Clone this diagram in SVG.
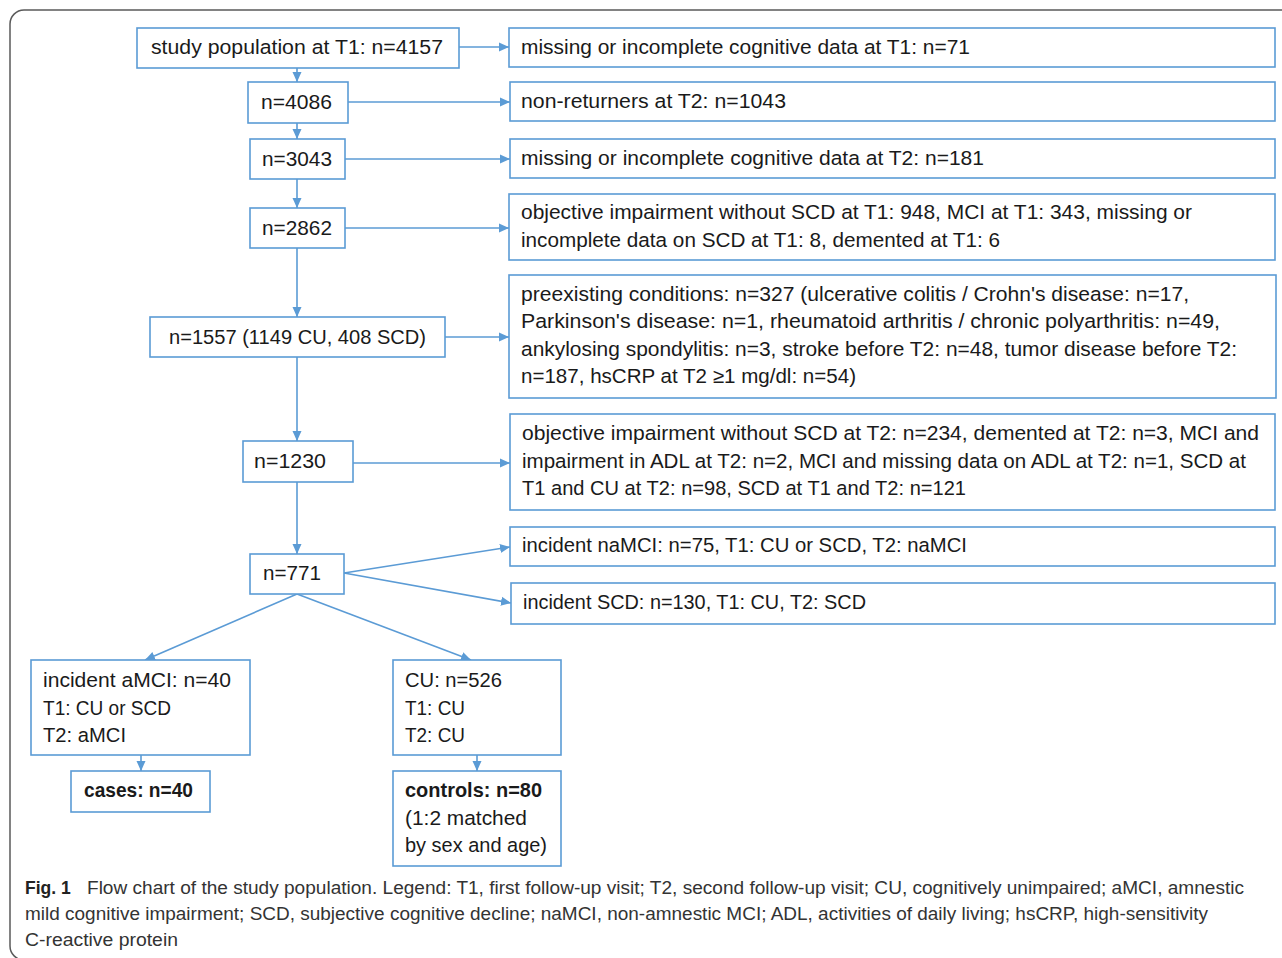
<svg xmlns="http://www.w3.org/2000/svg" width="1282" height="958" viewBox="0 0 1282 958">
<style>
.frame{fill:#fff;stroke:#5a5a5a;stroke-width:1.5}
.box{fill:#fff;stroke:#5b9bd5;stroke-width:1.6}
.t{font-family:"Liberation Sans",Arial,sans-serif;font-size:20.5px;fill:#1a1a1a}
.b{font-weight:bold}
.con{fill:none;stroke:#5b9bd5;stroke-width:1.6}
.cap{font-family:"Liberation Sans",Arial,sans-serif;font-size:17.5px;fill:#333}
</style>
<defs>
<marker id="ah" markerUnits="userSpaceOnUse" markerWidth="12" markerHeight="12" refX="10" refY="6" orient="auto">
<path d="M0,1.5 L10,6 L0,10.5 z" fill="#5b9bd5"/>
</marker>
</defs>
<rect class="frame" x="10" y="10" width="1300" height="950" rx="14"/>

<g id="connectors">
<line class="con" x1="297" y1="68" x2="297" y2="82" marker-end="url(#ah)"/>
<line class="con" x1="297" y1="123" x2="297" y2="139" marker-end="url(#ah)"/>
<line class="con" x1="297" y1="179" x2="297" y2="208" marker-end="url(#ah)"/>
<line class="con" x1="297" y1="248" x2="297" y2="317" marker-end="url(#ah)"/>
<line class="con" x1="297" y1="357" x2="297" y2="441" marker-end="url(#ah)"/>
<line class="con" x1="297" y1="482" x2="297" y2="554" marker-end="url(#ah)"/>
<line class="con" x1="459" y1="47" x2="509" y2="47" marker-end="url(#ah)"/>
<line class="con" x1="348" y1="102" x2="510" y2="102" marker-end="url(#ah)"/>
<line class="con" x1="345" y1="159" x2="510" y2="159" marker-end="url(#ah)"/>
<line class="con" x1="345" y1="228" x2="509" y2="228" marker-end="url(#ah)"/>
<line class="con" x1="445" y1="337" x2="509" y2="337" marker-end="url(#ah)"/>
<line class="con" x1="353" y1="463" x2="510" y2="463" marker-end="url(#ah)"/>
<line class="con" x1="344" y1="573" x2="510" y2="547" marker-end="url(#ah)"/>
<line class="con" x1="344" y1="573" x2="511" y2="603" marker-end="url(#ah)"/>
<line class="con" x1="297" y1="594" x2="145" y2="660" marker-end="url(#ah)"/>
<line class="con" x1="297" y1="594" x2="471" y2="660" marker-end="url(#ah)"/>
<line class="con" x1="141" y1="755" x2="141" y2="771" marker-end="url(#ah)"/>
<line class="con" x1="477" y1="755" x2="477" y2="771" marker-end="url(#ah)"/>
</g>

<g id="n-study">
<rect class="box" x="137" y="28" width="322" height="40"/>
<text class="t" x="151" y="54" textLength="292" lengthAdjust="spacingAndGlyphs">study population at T1: n=4157</text>
</g>
<g id="n-4086">
<rect class="box" x="248" y="82" width="100" height="41"/>
<text class="t" x="261" y="109" textLength="71" lengthAdjust="spacingAndGlyphs">n=4086</text>
</g>
<g id="n-3043">
<rect class="box" x="250" y="139" width="95" height="40"/>
<text class="t" x="262" y="166" textLength="70" lengthAdjust="spacingAndGlyphs">n=3043</text>
</g>
<g id="n-2862">
<rect class="box" x="250" y="208" width="95" height="40"/>
<text class="t" x="262" y="235" textLength="70" lengthAdjust="spacingAndGlyphs">n=2862</text>
</g>
<g id="n-1557">
<rect class="box" x="150" y="317" width="295" height="40"/>
<text class="t" x="169" y="344" textLength="257" lengthAdjust="spacingAndGlyphs">n=1557 (1149 CU, 408 SCD)</text>
</g>
<g id="n-1230">
<rect class="box" x="243" y="441" width="110" height="41"/>
<text class="t" x="254" y="468" textLength="72" lengthAdjust="spacingAndGlyphs">n=1230</text>
</g>
<g id="n-771">
<rect class="box" x="250" y="554" width="94" height="40"/>
<text class="t" x="263" y="580" textLength="58" lengthAdjust="spacingAndGlyphs">n=771</text>
</g>
<g id="n-amci">
<rect class="box" x="31" y="660" width="219" height="95"/>
<text class="t" x="43" y="687" textLength="188" lengthAdjust="spacingAndGlyphs">incident aMCI: n=40</text>
<text class="t" x="43" y="715" textLength="128" lengthAdjust="spacingAndGlyphs">T1: CU or SCD</text>
<text class="t" x="43" y="742" textLength="83" lengthAdjust="spacingAndGlyphs">T2: aMCI</text>
</g>
<g id="n-cu">
<rect class="box" x="393" y="660" width="168" height="95"/>
<text class="t" x="405" y="687" textLength="97" lengthAdjust="spacingAndGlyphs">CU: n=526</text>
<text class="t" x="405" y="715" textLength="60" lengthAdjust="spacingAndGlyphs">T1: CU</text>
<text class="t" x="405" y="742" textLength="60" lengthAdjust="spacingAndGlyphs">T2: CU</text>
</g>
<g id="n-cases">
<rect class="box" x="71" y="771" width="139" height="41"/>
<text class="t b" x="84" y="797" textLength="109" lengthAdjust="spacingAndGlyphs">cases: n=40</text>
</g>
<g id="n-controls">
<rect class="box" x="393" y="771" width="168" height="95"/>
<text class="t b" x="405" y="797" textLength="137" lengthAdjust="spacingAndGlyphs">controls: n=80</text>
<text class="t" x="405" y="825" textLength="122" lengthAdjust="spacingAndGlyphs">(1:2 matched</text>
<text class="t" x="405" y="852" textLength="142" lengthAdjust="spacingAndGlyphs">by sex and age)</text>
</g>

<g id="r1">
<rect class="box" x="509" y="28" width="766" height="39"/>
<text class="t" x="521" y="54" textLength="449" lengthAdjust="spacingAndGlyphs">missing or incomplete cognitive data at T1: n=71</text>
</g>
<g id="r2">
<rect class="box" x="510" y="82" width="765" height="39"/>
<text class="t" x="521" y="108" textLength="265" lengthAdjust="spacingAndGlyphs">non-returners at T2: n=1043</text>
</g>
<g id="r3">
<rect class="box" x="510" y="139" width="765" height="39"/>
<text class="t" x="521" y="165" textLength="463" lengthAdjust="spacingAndGlyphs">missing or incomplete cognitive data at T2: n=181</text>
</g>
<g id="r4">
<rect class="box" x="509" y="194" width="766" height="66"/>
<text class="t" x="521" y="219" textLength="671" lengthAdjust="spacingAndGlyphs">objective impairment without SCD at T1: 948, MCI at T1: 343, missing or</text>
<text class="t" x="521" y="247" textLength="479" lengthAdjust="spacingAndGlyphs">incomplete data on SCD at T1: 8, demented at T1: 6</text>
</g>
<g id="r5">
<rect class="box" x="509" y="275" width="767" height="123"/>
<text class="t" x="521" y="301" textLength="668" lengthAdjust="spacingAndGlyphs">preexisting conditions: n=327 (ulcerative colitis / Crohn's disease: n=17,</text>
<text class="t" x="521" y="328" textLength="699" lengthAdjust="spacingAndGlyphs">Parkinson's disease: n=1, rheumatoid arthritis / chronic polyarthritis: n=49,</text>
<text class="t" x="521" y="356" textLength="716" lengthAdjust="spacingAndGlyphs">ankylosing spondylitis: n=3, stroke before T2: n=48, tumor disease before T2:</text>
<text class="t" x="521" y="383" textLength="335" lengthAdjust="spacingAndGlyphs">n=187, hsCRP at T2 ≥1 mg/dl: n=54)</text>
</g>
<g id="r6">
<rect class="box" x="510" y="414" width="765" height="96"/>
<text class="t" x="522" y="440" textLength="737" lengthAdjust="spacingAndGlyphs">objective impairment without SCD at T2: n=234, demented at T2: n=3, MCI and</text>
<text class="t" x="522" y="468" textLength="724" lengthAdjust="spacingAndGlyphs">impairment in ADL at T2: n=2, MCI and missing data on ADL at T2: n=1, SCD at</text>
<text class="t" x="522" y="495" textLength="444" lengthAdjust="spacingAndGlyphs">T1 and CU at T2: n=98, SCD at T1 and T2: n=121</text>
</g>
<g id="r7">
<rect class="box" x="510" y="527" width="765" height="39"/>
<text class="t" x="522" y="552" textLength="445" lengthAdjust="spacingAndGlyphs">incident naMCI: n=75, T1: CU or SCD, T2: naMCI</text>
</g>
<g id="r8">
<rect class="box" x="511" y="583" width="764" height="41"/>
<text class="t" x="523" y="609" textLength="343" lengthAdjust="spacingAndGlyphs">incident SCD: n=130, T1: CU, T2: SCD</text>
</g>

<g id="caption">
<text class="cap" x="25" y="894" font-size="18"><tspan font-weight="bold" fill="#222">Fig. 1</tspan></text>
<text class="cap" x="87" y="894" font-size="18" textLength="1157" lengthAdjust="spacingAndGlyphs">Flow chart of the study population. Legend: T1, first follow-up visit; T2, second follow-up visit; CU, cognitively unimpaired; aMCI, amnestic</text>
<text class="cap" x="25" y="920" font-size="18" textLength="1183" lengthAdjust="spacingAndGlyphs">mild cognitive impairment; SCD, subjective cognitive decline; naMCI, non-amnestic MCI; ADL, activities of daily living; hsCRP, high-sensitivity</text>
<text class="cap" x="25" y="946" font-size="18" textLength="153" lengthAdjust="spacingAndGlyphs">C-reactive protein</text>
</g>
</svg>
